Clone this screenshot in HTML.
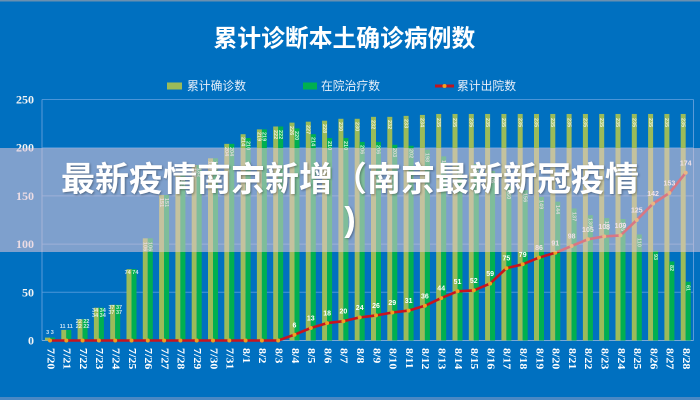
<!DOCTYPE html>
<html><head><meta charset="utf-8"><style>
html,body{margin:0;padding:0;}
#w{position:relative;width:700px;height:400px;overflow:hidden;background:#0070c0;}
svg{position:absolute;left:0;top:0;}
#band{position:absolute;left:0;top:148px;width:700px;height:104px;background:rgba(230,200,215,0.55);}
#big{position:absolute;left:0;top:160px;width:700px;text-align:center;color:#fff;font-family:"Liberation Sans","Noto Sans CJK SC",sans-serif;font-weight:bold;font-size:34px;line-height:40px;white-space:nowrap;text-shadow:1px 1px 2px rgba(0,0,0,0.35);}
</style></head><body><div id="w">
<svg width="700" height="400" viewBox="0 0 700 400" xmlns="http://www.w3.org/2000/svg">
<rect x="0" y="0" width="700" height="1.5" fill="#6a90b0"/>
<rect x="0" y="397" width="700" height="3" fill="#4a88c4"/>
<text x="344.4" y="39" text-anchor="middle" dominant-baseline="central" font-family="Liberation Sans, 'Noto Sans CJK SC', sans-serif" font-weight="bold" font-size="23.8" fill="#fff">累计诊断本土确诊病例数</text>
<g font-family="Liberation Sans, 'Noto Sans CJK SC', sans-serif" font-size="11.8" fill="#e6eef8" dominant-baseline="central">
<rect x="167" y="82.5" width="15" height="7" fill="#9bbb59"/><text x="187" y="86">累计确诊数</text>
<rect x="303" y="82.5" width="14" height="7" fill="#00b050"/><text x="321" y="86">在院治疗数</text>
<line x1="435" y1="86" x2="454" y2="86" stroke="#c0141e" stroke-width="3"/><circle cx="444.5" cy="86" r="2" fill="#f0a020"/><text x="457" y="86">累计出院数</text>
</g>
<g stroke="#4a95d8" stroke-width="1">
<line x1="42" y1="99.5" x2="693.5" y2="99.5"/><line x1="42" y1="147.7" x2="693.5" y2="147.7"/><line x1="42" y1="195.9" x2="693.5" y2="195.9"/><line x1="42" y1="244.1" x2="693.5" y2="244.1"/><line x1="42" y1="292.3" x2="693.5" y2="292.3"/>
<line x1="42" y1="99.5" x2="42" y2="340.5" stroke="#5a9ad8"/><line x1="693.5" y1="99.5" x2="693.5" y2="340.5" stroke="#5a9ad8"/><line x1="42" y1="340.5" x2="693.5" y2="340.5" stroke="#7aa8d8"/>
</g>
<g font-family="Liberation Serif, serif" font-weight="bold" font-size="12" fill="#f4f4f4" text-anchor="end" dominant-baseline="central">
<text x="34" y="99.5">250</text><text x="34" y="147.7">200</text><text x="34" y="195.9">150</text><text x="34" y="244.1">100</text><text x="34" y="292.3">50</text><text x="34" y="340.5">0</text>
</g>
<g transform="translate(0,340.5) scale(1,-0.964)">
<g fill="#9bbb59">
<rect x="45" y="0" width="5" height="3"/><rect x="61.3" y="0" width="5" height="11"/><rect x="77.6" y="0" width="5" height="22"/><rect x="93.9" y="0" width="5" height="34"/><rect x="110.2" y="0" width="5" height="37"/><rect x="126.5" y="0" width="5" height="74"/><rect x="142.8" y="0" width="5" height="106"/><rect x="159.1" y="0" width="5" height="151"/><rect x="175.4" y="0" width="5" height="171"/><rect x="191.7" y="0" width="5" height="182"/><rect x="208" y="0" width="5" height="189"/><rect x="224.3" y="0" width="5" height="204"/><rect x="240.6" y="0" width="5" height="214"/><rect x="256.9" y="0" width="5" height="219"/><rect x="273.2" y="0" width="5" height="222"/><rect x="289.5" y="0" width="5" height="226"/><rect x="305.8" y="0" width="5" height="227"/><rect x="322.1" y="0" width="5" height="228"/><rect x="338.4" y="0" width="5" height="230"/><rect x="354.7" y="0" width="5" height="230"/><rect x="371" y="0" width="5" height="232"/><rect x="387.3" y="0" width="5" height="232"/><rect x="403.6" y="0" width="5" height="233"/><rect x="419.9" y="0" width="5" height="234"/><rect x="436.2" y="0" width="5" height="235"/><rect x="452.5" y="0" width="5" height="235"/><rect x="468.8" y="0" width="5" height="235"/><rect x="485.1" y="0" width="5" height="235"/><rect x="501.4" y="0" width="5" height="235"/><rect x="517.7" y="0" width="5" height="235"/><rect x="534" y="0" width="5" height="235"/><rect x="550.3" y="0" width="5" height="235"/><rect x="566.6" y="0" width="5" height="235"/><rect x="582.9" y="0" width="5" height="235"/><rect x="599.2" y="0" width="5" height="235"/><rect x="615.5" y="0" width="5" height="235"/><rect x="631.8" y="0" width="5" height="235"/><rect x="648.1" y="0" width="5" height="235"/><rect x="664.4" y="0" width="5" height="235"/><rect x="680.7" y="0" width="5" height="235"/>
</g>
<g fill="#00b050">
<rect x="50" y="0" width="5" height="3"/><rect x="66.3" y="0" width="5" height="11"/><rect x="82.6" y="0" width="5" height="22"/><rect x="98.9" y="0" width="5" height="34"/><rect x="115.2" y="0" width="5" height="37"/><rect x="131.5" y="0" width="5" height="74"/><rect x="147.8" y="0" width="5" height="106"/><rect x="164.1" y="0" width="5" height="151"/><rect x="180.4" y="0" width="5" height="171"/><rect x="196.7" y="0" width="5" height="182"/><rect x="213" y="0" width="5" height="189"/><rect x="229.3" y="0" width="5" height="204"/><rect x="245.6" y="0" width="5" height="210"/><rect x="261.9" y="0" width="5" height="219"/><rect x="278.2" y="0" width="5" height="222"/><rect x="294.5" y="0" width="5" height="220"/><rect x="310.8" y="0" width="5" height="214"/><rect x="327.1" y="0" width="5" height="210"/><rect x="343.4" y="0" width="5" height="210"/><rect x="359.7" y="0" width="5" height="206"/><rect x="376" y="0" width="5" height="206"/><rect x="392.3" y="0" width="5" height="203"/><rect x="408.6" y="0" width="5" height="202"/><rect x="424.9" y="0" width="5" height="198"/><rect x="441.2" y="0" width="5" height="191"/><rect x="457.5" y="0" width="5" height="184"/><rect x="473.8" y="0" width="5" height="183"/><rect x="490.1" y="0" width="5" height="176"/><rect x="506.4" y="0" width="5" height="160"/><rect x="522.7" y="0" width="5" height="156"/><rect x="539" y="0" width="5" height="149"/><rect x="555.3" y="0" width="5" height="144"/><rect x="571.6" y="0" width="5" height="137"/><rect x="587.9" y="0" width="5" height="130"/><rect x="604.2" y="0" width="5" height="127"/><rect x="620.5" y="0" width="5" height="126"/><rect x="636.8" y="0" width="5" height="110"/><rect x="653.1" y="0" width="5" height="93"/><rect x="669.4" y="0" width="5" height="82"/><rect x="685.7" y="0" width="5" height="61"/>
</g>
</g>
<g font-family="Liberation Sans, sans-serif" font-weight="bold" font-size="5.5" fill="#ffffff" fill-opacity="0.8" dominant-baseline="central">
<text x="50" y="333" text-anchor="middle">3 3</text>
<text x="66.3" y="327" text-anchor="middle">11 11</text>
<text x="82.6" y="322" text-anchor="middle">22 22</text><text x="82.6" y="327" text-anchor="middle">22 22</text>
<text x="98.9" y="311" text-anchor="middle">34 34</text><text x="98.9" y="316" text-anchor="middle">34 34</text>
<text x="115.2" y="308" text-anchor="middle">37 37</text><text x="115.2" y="313" text-anchor="middle">37 37</text>
<text x="131.5" y="273" text-anchor="middle">74 74</text>
</g>
<g font-family="Liberation Sans, sans-serif" font-weight="bold" font-size="5.5" fill="#ffffff" fill-opacity="0.8">
<text transform="translate(143.5,242) rotate(90)">106</text><text transform="translate(148.5,242) rotate(90)">106</text>
<text transform="translate(159.8,198) rotate(90)">151</text><text transform="translate(164.8,198) rotate(90)">151</text>
<text transform="translate(176.1,179) rotate(90)">171</text><text transform="translate(181.1,179) rotate(90)">171</text>
<text transform="translate(192.4,168) rotate(90)">182</text><text transform="translate(197.4,168) rotate(90)">182</text>
<text transform="translate(208.7,161) rotate(90)">189</text><text transform="translate(213.7,161) rotate(90)">189</text>
<text transform="translate(225,147) rotate(90)">204</text><text transform="translate(230,147) rotate(90)">204</text>
<text transform="translate(241.3,137) rotate(90)">214</text><text transform="translate(246.3,141) rotate(90)">210</text>
<text transform="translate(257.6,132) rotate(90)">219</text><text transform="translate(262.6,132) rotate(90)">219</text>
<text transform="translate(273.9,130) rotate(90)">222</text><text transform="translate(278.9,130) rotate(90)">222</text>
<text transform="translate(290.2,126) rotate(90)">226</text><text transform="translate(295.2,131) rotate(90)">220</text>
<text transform="translate(306.5,125) rotate(90)">227</text><text transform="translate(311.5,137) rotate(90)">214</text>
<text transform="translate(322.8,124) rotate(90)">228</text><text transform="translate(327.8,141) rotate(90)">210</text>
<text transform="translate(339.1,122) rotate(90)">230</text><text transform="translate(344.1,141) rotate(90)">210</text>
<text transform="translate(355.4,122) rotate(90)">230</text><text transform="translate(360.4,145) rotate(90)">206</text>
<text transform="translate(371.7,120) rotate(90)">232</text><text transform="translate(376.7,145) rotate(90)">206</text>
<text transform="translate(388,120) rotate(90)">232</text><text transform="translate(393,148) rotate(90)">203</text>
<text transform="translate(404.3,119) rotate(90)">233</text><text transform="translate(409.3,149) rotate(90)">202</text>
<text transform="translate(420.6,118) rotate(90)">234</text><text transform="translate(425.6,153) rotate(90)">198</text>
<text transform="translate(436.9,118) rotate(90)">235</text><text transform="translate(441.9,160) rotate(90)">191</text>
<text transform="translate(453.2,118) rotate(90)">235</text><text transform="translate(458.2,166) rotate(90)">184</text>
<text transform="translate(469.5,118) rotate(90)">235</text><text transform="translate(474.5,167) rotate(90)">183</text>
<text transform="translate(485.8,118) rotate(90)">235</text><text transform="translate(490.8,174) rotate(90)">176</text>
<text transform="translate(502.1,118) rotate(90)">235</text><text transform="translate(507.1,190) rotate(90)">160</text>
<text transform="translate(518.4,118) rotate(90)">235</text><text transform="translate(523.4,193) rotate(90)">156</text>
<text transform="translate(534.7,118) rotate(90)">235</text><text transform="translate(539.7,200) rotate(90)">149</text>
<text transform="translate(551,118) rotate(90)">235</text><text transform="translate(556,205) rotate(90)">144</text>
<text transform="translate(567.3,118) rotate(90)">235</text><text transform="translate(572.3,212) rotate(90)">137</text>
<text transform="translate(583.6,118) rotate(90)">235</text><text transform="translate(588.6,218) rotate(90)">130</text>
<text transform="translate(599.9,118) rotate(90)">235</text><text transform="translate(604.9,221) rotate(90)">127</text>
<text transform="translate(616.2,118) rotate(90)">235</text><text transform="translate(621.2,222) rotate(90)">126</text>
<text transform="translate(632.5,118) rotate(90)">235</text><text transform="translate(637.5,238) rotate(90)">110</text>
<text transform="translate(648.8,118) rotate(90)">235</text><text transform="translate(653.8,254) rotate(90)">93</text>
<text transform="translate(665.1,118) rotate(90)">235</text><text transform="translate(670.1,265) rotate(90)">82</text>
<text transform="translate(681.4,118) rotate(90)">235</text><text transform="translate(686.4,285) rotate(90)">61</text>
</g>
<polyline fill="none" stroke="#c8141e" stroke-width="2.6" stroke-linejoin="round" points="50,340.5 66.3,340.5 82.6,340.5 98.9,340.5 115.2,340.5 131.5,340.5 147.8,340.5 164.1,340.5 180.4,340.5 196.7,340.5 213,340.5 229.3,340.5 245.6,340.5 261.9,340.5 278.2,340.5 294.5,334.7 310.8,328 327.1,323.1 343.4,321.2 359.7,317.4 376,315.4 392.3,312.5 408.6,310.6 424.9,305.8 441.2,298.1 457.5,291.3 473.8,290.4 490.1,283.6 506.4,268.2 522.7,264.3 539,257.6 555.3,252.8 571.6,246 587.9,239.3 604.2,236.4 620.5,235.4 636.8,220 653.1,203.6 669.4,193 685.7,172.8"/>
<g fill="#f0a020">
<circle cx="50" cy="340.5" r="2"/><circle cx="66.3" cy="340.5" r="2"/><circle cx="82.6" cy="340.5" r="2"/><circle cx="98.9" cy="340.5" r="2"/><circle cx="115.2" cy="340.5" r="2"/><circle cx="131.5" cy="340.5" r="2"/><circle cx="147.8" cy="340.5" r="2"/><circle cx="164.1" cy="340.5" r="2"/><circle cx="180.4" cy="340.5" r="2"/><circle cx="196.7" cy="340.5" r="2"/><circle cx="213" cy="340.5" r="2"/><circle cx="229.3" cy="340.5" r="2"/><circle cx="245.6" cy="340.5" r="2"/><circle cx="261.9" cy="340.5" r="2"/><circle cx="278.2" cy="340.5" r="2"/><circle cx="294.5" cy="334.7" r="2"/><circle cx="310.8" cy="328" r="2"/><circle cx="327.1" cy="323.1" r="2"/><circle cx="343.4" cy="321.2" r="2"/><circle cx="359.7" cy="317.4" r="2"/><circle cx="376" cy="315.4" r="2"/><circle cx="392.3" cy="312.5" r="2"/><circle cx="408.6" cy="310.6" r="2"/><circle cx="424.9" cy="305.8" r="2"/><circle cx="441.2" cy="298.1" r="2"/><circle cx="457.5" cy="291.3" r="2"/><circle cx="473.8" cy="290.4" r="2"/><circle cx="490.1" cy="283.6" r="2"/><circle cx="506.4" cy="268.2" r="2"/><circle cx="522.7" cy="264.3" r="2"/><circle cx="539" cy="257.6" r="2"/><circle cx="555.3" cy="252.8" r="2"/><circle cx="571.6" cy="246" r="2"/><circle cx="587.9" cy="239.3" r="2"/><circle cx="604.2" cy="236.4" r="2"/><circle cx="620.5" cy="235.4" r="2"/><circle cx="636.8" cy="220" r="2"/><circle cx="653.1" cy="203.6" r="2"/><circle cx="669.4" cy="193" r="2"/><circle cx="685.7" cy="172.8" r="2"/>
</g>
<g font-family="Liberation Sans, sans-serif" font-weight="bold" font-size="7" fill="#ffffff" text-anchor="middle" dominant-baseline="central">
<text x="294.5" y="326">6</text><text x="310.8" y="319">13</text><text x="327.1" y="314">18</text><text x="343.4" y="312">20</text><text x="359.7" y="308.4">24</text><text x="376" y="306.4">26</text><text x="392.3" y="303.5">29</text><text x="408.6" y="301.6">31</text><text x="424.9" y="296.8">36</text><text x="441.2" y="289">44</text><text x="457.5" y="282.3">51</text><text x="473.8" y="281.4">52</text><text x="490.1" y="274.6">59</text><text x="506.4" y="259.2">75</text><text x="522.7" y="255.3">79</text><text x="539" y="248.6">86</text><text x="555.3" y="243.8">91</text><text x="571.6" y="237">98</text><text x="587.9" y="230.3">105</text><text x="604.2" y="227.4">108</text><text x="620.5" y="226.4">109</text><text x="636.8" y="211">125</text><text x="653.1" y="194.6">142</text><text x="669.4" y="184">153</text><text x="685.7" y="163.8">174</text>
</g>
<g font-family="Liberation Serif, serif" font-weight="bold" font-size="10" fill="#ffffff" dominant-baseline="central">
<text transform="translate(50,348) rotate(90) scale(1.2,1)">7/20</text>
<text transform="translate(66.3,348) rotate(90) scale(1.2,1)">7/21</text>
<text transform="translate(82.6,348) rotate(90) scale(1.2,1)">7/22</text>
<text transform="translate(98.9,348) rotate(90) scale(1.2,1)">7/23</text>
<text transform="translate(115.2,348) rotate(90) scale(1.2,1)">7/24</text>
<text transform="translate(131.5,348) rotate(90) scale(1.2,1)">7/25</text>
<text transform="translate(147.8,348) rotate(90) scale(1.2,1)">7/26</text>
<text transform="translate(164.1,348) rotate(90) scale(1.2,1)">7/27</text>
<text transform="translate(180.4,348) rotate(90) scale(1.2,1)">7/28</text>
<text transform="translate(196.7,348) rotate(90) scale(1.2,1)">7/29</text>
<text transform="translate(213,348) rotate(90) scale(1.2,1)">7/30</text>
<text transform="translate(229.3,348) rotate(90) scale(1.2,1)">7/31</text>
<text transform="translate(245.6,348) rotate(90) scale(1.2,1)">8/1</text>
<text transform="translate(261.9,348) rotate(90) scale(1.2,1)">8/2</text>
<text transform="translate(278.2,348) rotate(90) scale(1.2,1)">8/3</text>
<text transform="translate(294.5,348) rotate(90) scale(1.2,1)">8/4</text>
<text transform="translate(310.8,348) rotate(90) scale(1.2,1)">8/5</text>
<text transform="translate(327.1,348) rotate(90) scale(1.2,1)">8/6</text>
<text transform="translate(343.4,348) rotate(90) scale(1.2,1)">8/7</text>
<text transform="translate(359.7,348) rotate(90) scale(1.2,1)">8/8</text>
<text transform="translate(376,348) rotate(90) scale(1.2,1)">8/9</text>
<text transform="translate(392.3,348) rotate(90) scale(1.2,1)">8/10</text>
<text transform="translate(408.6,348) rotate(90) scale(1.2,1)">8/11</text>
<text transform="translate(424.9,348) rotate(90) scale(1.2,1)">8/12</text>
<text transform="translate(441.2,348) rotate(90) scale(1.2,1)">8/13</text>
<text transform="translate(457.5,348) rotate(90) scale(1.2,1)">8/14</text>
<text transform="translate(473.8,348) rotate(90) scale(1.2,1)">8/15</text>
<text transform="translate(490.1,348) rotate(90) scale(1.2,1)">8/16</text>
<text transform="translate(506.4,348) rotate(90) scale(1.2,1)">8/17</text>
<text transform="translate(522.7,348) rotate(90) scale(1.2,1)">8/18</text>
<text transform="translate(539,348) rotate(90) scale(1.2,1)">8/19</text>
<text transform="translate(555.3,348) rotate(90) scale(1.2,1)">8/20</text>
<text transform="translate(571.6,348) rotate(90) scale(1.2,1)">8/21</text>
<text transform="translate(587.9,348) rotate(90) scale(1.2,1)">8/22</text>
<text transform="translate(604.2,348) rotate(90) scale(1.2,1)">8/23</text>
<text transform="translate(620.5,348) rotate(90) scale(1.2,1)">8/24</text>
<text transform="translate(636.8,348) rotate(90) scale(1.2,1)">8/25</text>
<text transform="translate(653.1,348) rotate(90) scale(1.2,1)">8/26</text>
<text transform="translate(669.4,348) rotate(90) scale(1.2,1)">8/27</text>
<text transform="translate(685.7,348) rotate(90) scale(1.2,1)">8/28</text>
</g>
</svg>
<div id="band"></div>
<div id="big">最新疫情南京新增（南京最新新冠疫情<br>)</div>
</div></body></html>
